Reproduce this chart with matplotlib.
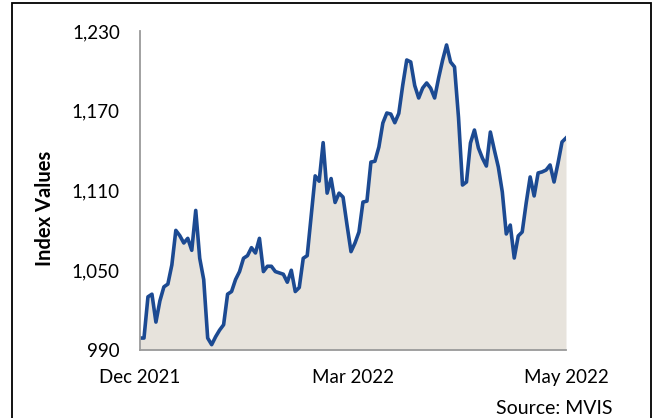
import matplotlib.pyplot as plt
from matplotlib.patches import Rectangle
from matplotlib.ticker import FuncFormatter

plt.rcParams['font.family'] = ['Lato', 'DejaVu Sans']

# index values, one per trading day (Dec 2021 - May 2022)
values = [
    999, 999, 1030, 1032, 1011, 1027, 1037.5, 1039.6, 1054, 1080,
    1076, 1070.5, 1074, 1065, 1095, 1059, 1043, 999, 994, 1000,
    1005, 1009, 1032, 1034, 1043, 1049, 1059, 1061, 1067, 1063,
    1074, 1049, 1053, 1053, 1049, 1048, 1047, 1041, 1050, 1034,
    1037, 1059, 1061, 1091, 1121, 1117, 1146, 1108, 1119, 1101,
    1108, 1105, 1084, 1064, 1070.5, 1078.8, 1101.3, 1102, 1131.4, 1132,
    1142.7, 1160.8, 1168.3, 1167.5, 1161, 1168, 1189.4, 1208.2, 1206.7, 1189,
    1179.6, 1187.1, 1190.9, 1187, 1179.6, 1194.6, 1208, 1219.5, 1206.7, 1203,
    1165, 1114.1, 1116.4, 1145.7, 1155.5, 1142, 1134.4, 1128.4, 1154, 1140.5,
    1127.7, 1108.9, 1077.3, 1084, 1059.2, 1075.8, 1078.8, 1100.6, 1120.2, 1105.9,
    1123.2, 1124, 1125.4, 1129.2, 1116.4, 1130.7, 1146.5, 1149.5,
]
x_labels = ['Dec 2021', 'Mar 2022', 'May 2022']
y_ticks = [990, 1050, 1110, 1170, 1230]

line_color = '#1c4a92'
fill_color = '#e7e3dc'

fig = plt.figure(figsize=(6.57, 4.18), dpi=100)
ax = fig.add_axes([140 / 657, 1 - 350 / 418, 426 / 657, 319 / 418])

x = list(range(len(values)))
ax.fill_between(x, y_ticks[0], values, color=fill_color, linewidth=0)
ax.plot(x, values, color=line_color, linewidth=2.6, solid_joinstyle='round')

ax.set_xlim(0, len(values) - 1)
ax.set_ylim(y_ticks[0], y_ticks[-1])
ax.set_yticks(y_ticks)
ax.yaxis.set_major_formatter(FuncFormatter(lambda v, p: f'{v:,.0f}'))
ax.set_xticks([0, (len(values) - 1) / 2, len(values) - 1])
ax.set_xticklabels(x_labels)
ax.tick_params(axis='both', length=0, labelsize=13.5, colors='black')
ax.tick_params(axis='y', pad=14.5)
ax.tick_params(axis='x', pad=14)

for side in ['top', 'right']:
    ax.spines[side].set_visible(False)
for side in ['left', 'bottom']:
    ax.spines[side].set_color('#9a9a9a')
    ax.spines[side].set_linewidth(1.3)

fig.text(45 / 657, 1 - 208 / 418, 'Index Values', rotation=90, fontsize=14.5,
         fontweight='bold', ha='center', va='center')
fig.text(554 / 657, 1 - 408 / 418, 'Source: MVIS', fontsize=14,
         ha='center', va='center')

# outer frame of the original figure
fig.patches.append(Rectangle((11.5 / 657, -0.05), 639.5 / 657, 1.05 - 3 / 418,
                             transform=fig.transFigure, fill=False,
                             edgecolor='black', linewidth=1.3))

fig.savefig('out.png', dpi=100)
